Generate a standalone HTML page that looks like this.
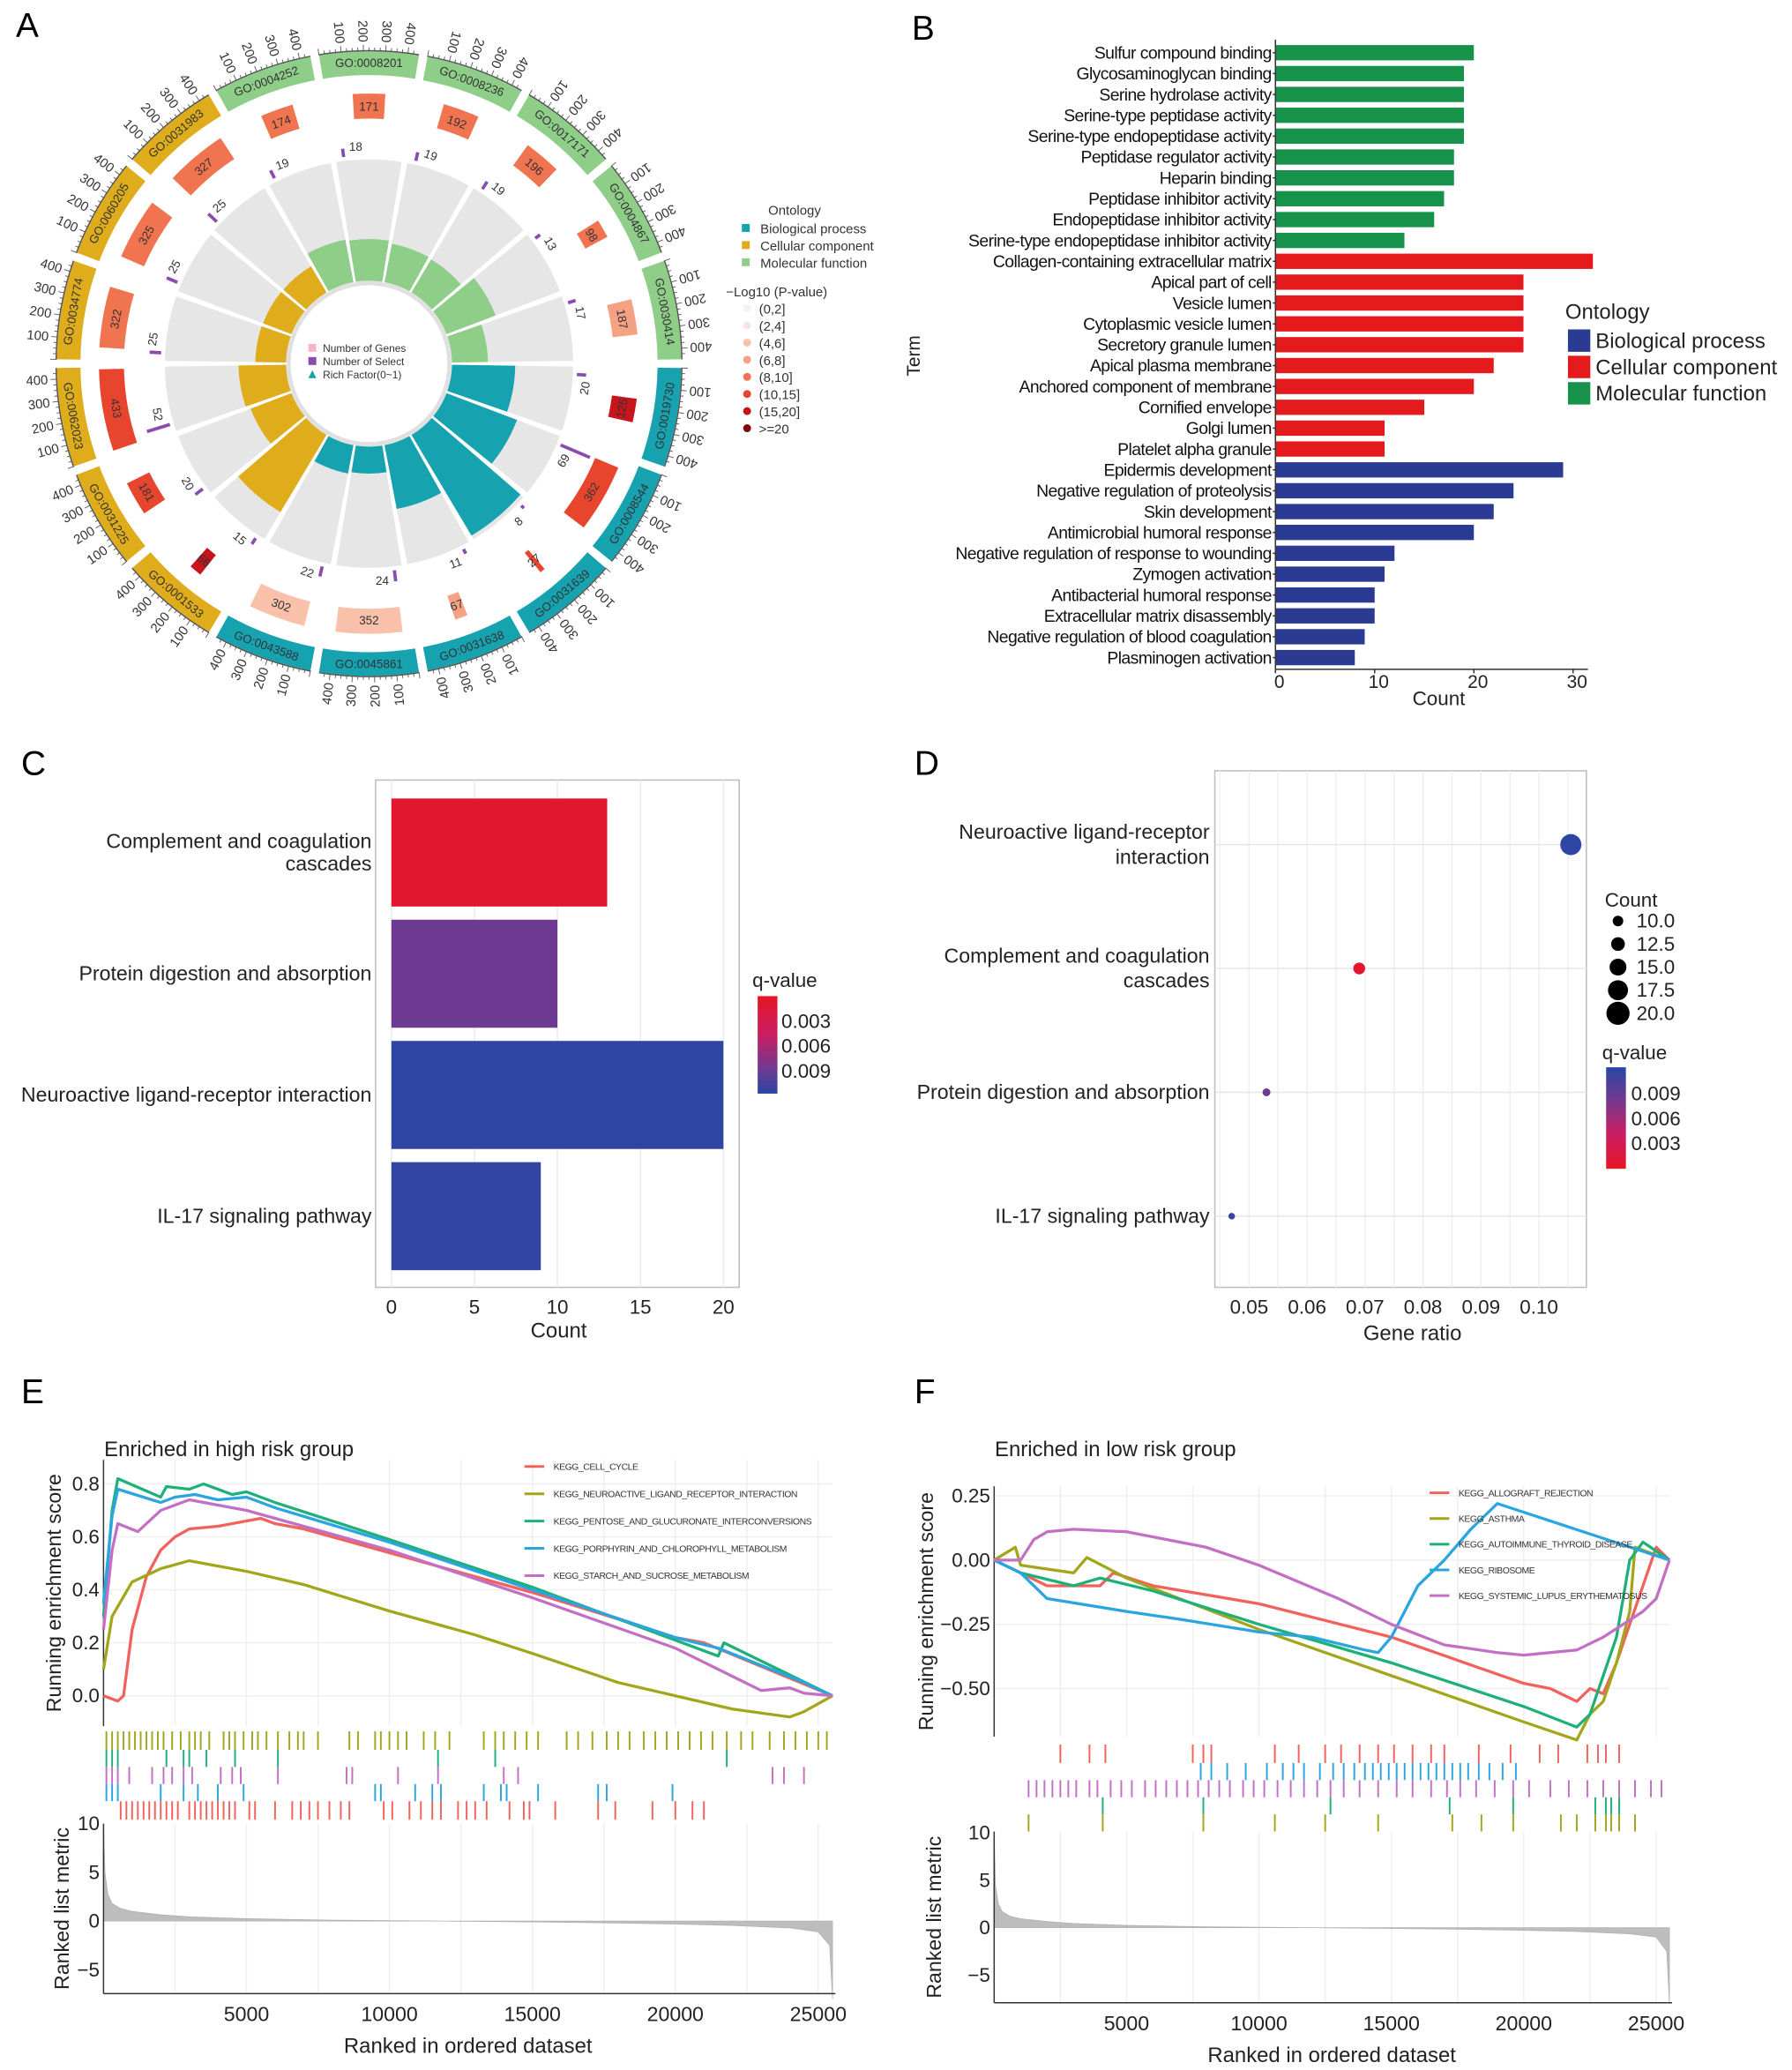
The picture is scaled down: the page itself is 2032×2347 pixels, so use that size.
<!DOCTYPE html>
<html><head><meta charset="utf-8"><style>
html,body{margin:0;padding:0;background:#fff;}
svg{display:block;font-family:"Liberation Sans",Arial,sans-serif;}
</style></head><body>
<svg id="fig" xmlns="http://www.w3.org/2000/svg" width="2032" height="2347" viewBox="0 0 1360 1571">
<rect x="0" y="0" width="1360" height="1571" fill="#fff"/>
<text x="12" y="28" font-size="26">A</text>
<text x="692" y="30" font-size="26">B</text>
<text x="16" y="588" font-size="26">C</text>
<text x="694" y="588" font-size="26">D</text>
<text x="16" y="1065" font-size="26">E</text>
<text x="694" y="1065" font-size="26">F</text>
<g id="gA"></g>
<g id="gB"></g>
<g id="gC"></g>
<g id="gD"></g>
<g id="gE"></g>
<g id="gF"></g>
</svg>
<script>
// ---------- DATA ----------
// Panel A
const aTerms=["GO:0008201","GO:0008236","GO:0017171","GO:0004867","GO:0030414","GO:0019730","GO:0008544","GO:0031639","GO:0031638","GO:0045861","GO:0043588","GO:0001533","GO:0031225","GO:0062023","GO:0034774","GO:0060205","GO:0031983","GO:0004252"];
const aOnt=["MF","MF","MF","MF","MF","BP","BP","BP","BP","BP","BP","CC","CC","CC","CC","CC","CC","MF"];
const aGenes=[171,192,196,98,187,125,362,27,67,352,302,66,181,433,322,325,327,174];
const aSelect=[18,19,19,13,17,20,69,8,11,24,22,15,20,52,25,25,25,19];
const aPlevel=[4,4,4,4,3,6,5,5,3,2,2,6,5,5,4,4,4,4];
// Panel B
const bTerms=["Sulfur compound binding","Glycosaminoglycan binding","Serine hydrolase activity","Serine-type peptidase activity","Serine-type endopeptidase activity","Peptidase regulator activity","Heparin binding","Peptidase inhibitor activity","Endopeptidase inhibitor activity","Serine-type endopeptidase inhibitor activity","Collagen-containing extracellular matrix","Apical part of cell","Vesicle lumen","Cytoplasmic vesicle lumen","Secretory granule lumen","Apical plasma membrane","Anchored component of membrane","Cornified envelope","Golgi lumen","Platelet alpha granule","Epidermis development","Negative regulation of proteolysis","Skin development","Antimicrobial humoral response","Negative regulation of response to wounding","Zymogen activation","Antibacterial humoral response","Extracellular matrix disassembly","Negative regulation of blood coagulation","Plasminogen activation"];
const bCounts=[20,19,19,19,19,18,18,17,16,13,32,25,25,25,25,22,20,15,11,11,29,24,22,20,12,11,10,10,9,8];
const bOnt=["MF","MF","MF","MF","MF","MF","MF","MF","MF","MF","CC","CC","CC","CC","CC","CC","CC","CC","CC","CC","BP","BP","BP","BP","BP","BP","BP","BP","BP","BP"];
const bTicks=[0,10,20,30];
// Panel C
const cTerms=[["Complement and coagulation","cascades"],["Protein digestion and absorption"],["Neuroactive ligand-receptor interaction"],["IL-17 signaling pathway"]];
const cCounts=[13,10,20,9];
const cQ=[0.0005,0.006,0.010,0.0098];
const cTicks=[0,5,10,15,20];
// Panel D
const dTerms=[["Neuroactive ligand-receptor","interaction"],["Complement and coagulation","cascades"],["Protein digestion and absorption"],["IL-17 signaling pathway"]];
const dRatio=[0.1055,0.069,0.053,0.047];
const dCount=[20,13,10,9];
const dQ=[0.0102,0.0005,0.006,0.0098];
const dTicks=[0.05,0.06,0.07,0.08,0.09,0.10];
// Panel E
const eNames=["KEGG_CELL_CYCLE","KEGG_NEUROACTIVE_LIGAND_RECEPTOR_INTERACTION","KEGG_PENTOSE_AND_GLUCURONATE_INTERCONVERSIONS","KEGG_PORPHYRIN_AND_CHLOROPHYLL_METABOLISM","KEGG_STARCH_AND_SUCROSE_METABOLISM"];
const eRankCellCycle=[0,0.5,0.7,1,1.5,2,2.5,3,4,5,5.5,6,7,8,10,15,18,20,21,25.5];
const eEsCellCycle=[0,-0.02,0,0.25,0.45,0.55,0.6,0.63,0.64,0.66,0.67,0.65,0.63,0.6,0.54,0.39,0.29,0.22,0.2,0];
const eRankNeuro=[0,0.3,1,2,3,4,5,7,10,13,15,18,20,22,24,24.5,25.5];
const eEsNeuro=[0.1,0.3,0.43,0.48,0.51,0.49,0.47,0.42,0.32,0.23,0.16,0.05,0,-0.05,-0.08,-0.06,0];
const eRankPentose=[0,0.3,0.5,2,2.2,3,3.5,4.5,5,6,10,15,18,21.5,21.7,25.5];
const eEsPentose=[0.3,0.7,0.82,0.75,0.79,0.78,0.8,0.76,0.77,0.73,0.59,0.41,0.29,0.15,0.2,0];
const eRankPorph=[0,0.3,0.5,2,2.5,3.2,4,5,6,10,15,20,21.5,24.5,25.5];
const eEsPorph=[0.35,0.68,0.78,0.73,0.75,0.76,0.74,0.75,0.71,0.58,0.4,0.22,0.18,0.05,0];
const eRankStarch=[0,0.3,0.5,1.2,2,3,4,5,10,15,20,23,24,24.5,25.5];
const eEsStarch=[0.25,0.55,0.65,0.62,0.7,0.74,0.72,0.7,0.55,0.37,0.18,0.02,0.03,0.01,0];
const eHitsNeuro=[0.1,0.3,0.5,0.7,0.9,1.1,1.3,1.5,1.7,1.9,2.1,2.4,2.7,3,3.2,3.4,3.7,4.2,4.4,4.6,4.9,5.2,5.4,5.7,6.1,6.5,6.8,7,7.5,8.6,8.9,9.5,9.7,10,10.3,10.6,11.2,11.6,12.1,13.3,13.7,14,14.4,14.8,15.2,16.2,16.6,17.1,17.6,18,18.4,18.9,19.3,19.7,20.1,20.5,20.9,21.3,21.8,22.3,22.7,23.3,23.8,24.2,24.6,25,25.3];
const eHitsPentose=[0.1,0.3,0.5,2.2,2.8,3,3.6,4.6,6.1,11.7,13.7,21.8];
const eHitsStarch=[0.1,0.3,0.5,0.9,1.7,2.1,2.4,2.8,3.1,4.1,4.5,4.8,6.1,8.5,8.7,10.3,11.7,14,14.5,23.4,23.8,24.5];
const eHitsPorph=[0.1,0.3,0.5,2,2.8,3.3,4,4.9,9.5,9.7,10.9,11.5,11.8,13.3,13.9,14.1,15.2,17.3,17.6,19.9];
const eHitsCellCycle=[0.6,0.8,1,1.2,1.4,1.6,1.8,2,2.2,2.4,2.6,3,3.2,3.4,3.6,3.8,4,4.2,4.4,4.6,5.1,5.3,6,6.6,6.9,7.2,7.5,7.9,8.3,8.6,9.8,10.1,10.7,11.1,11.5,11.8,12.4,12.7,13,13.4,14.2,14.7,14.9,15.8,17.3,17.9,19.2,20,20.6,21];
const eMetricRank=[0,0.05,0.15,0.3,0.6,1,2,3,5,8,12,15,18,20,22,24,25,25.4,25.5];
const eMetric=[10,5,2.8,1.8,1.3,1.0,0.65,0.45,0.25,0.1,0,-0.08,-0.2,-0.3,-0.45,-0.7,-1.1,-2.5,-8];
const eEsTicks=[0,0.2,0.4,0.6,0.8];
// Panel F
const fNames=["KEGG_ALLOGRAFT_REJECTION","KEGG_ASTHMA","KEGG_AUTOIMMUNE_THYROID_DISEASE","KEGG_RIBOSOME","KEGG_SYSTEMIC_LUPUS_ERYTHEMATOSUS"];
const fRankAllo=[0,1,2,4,4.5,6,10,15,20,21,22,22.5,23,23.5,24.5,25,25.5];
const fEsAllo=[0,-0.05,-0.1,-0.1,-0.05,-0.1,-0.17,-0.3,-0.48,-0.5,-0.55,-0.5,-0.52,-0.4,-0.1,0.05,0];
const fRankAsthma=[0,0.8,1,3,3.5,5,10,15,20,22,22.5,23,23.5,24,24.2,25.5];
const fEsAsthma=[0,0.05,-0.02,-0.05,0.01,-0.07,-0.27,-0.45,-0.63,-0.7,-0.6,-0.55,-0.4,-0.2,0.05,0];
const fRankThy=[0,1,3,4,6,10,15,20,22,22.5,23,23.5,24,24.5,25.5];
const fEsThy=[0,-0.05,-0.1,-0.07,-0.12,-0.25,-0.4,-0.57,-0.65,-0.6,-0.45,-0.3,0,0.07,0];
const fRankRibo=[0,1,2,5,7,10,12,14,14.5,15,15.5,16,17,18,19,25.5];
const fEsRibo=[0,-0.05,-0.15,-0.2,-0.23,-0.28,-0.3,-0.35,-0.36,-0.3,-0.2,-0.1,0,0.12,0.22,0];
const fRankSle=[0,1,1.5,2,3,5,8,10,13,15,17,19,20,22,23,24.5,25,25.5];
const fEsSle=[0,0,0.08,0.11,0.12,0.11,0.05,-0.02,-0.15,-0.25,-0.33,-0.36,-0.37,-0.35,-0.3,-0.2,-0.15,0];
const fHitsAllo=[2.5,3.6,4.2,7.5,7.9,8.2,10.6,11.5,12.5,13.1,13.8,14.5,15.1,15.8,16.5,17,18.3,19.5,20.6,21.3,22.4,22.8,23.1,23.6];
const fHitsRibo=[7.8,8.2,8.8,9.5,10.3,10.9,11.3,11.7,12.3,12.8,13.2,13.6,14,14.3,14.6,14.9,15.2,15.5,15.8,16.1,16.4,16.7,17,17.3,17.6,17.9,18.3,18.7,19.2,19.7];
const fHitsSle=[1.3,1.6,1.9,2.2,2.5,2.8,3.1,3.6,3.9,4.4,4.8,5.2,5.7,6.1,6.5,6.9,7.3,7.7,8.1,8.5,8.9,9.4,9.8,10.2,10.7,11.2,11.7,12.2,12.7,13.2,13.8,14.5,15.2,15.8,16.5,17.1,17.6,18.2,18.9,19.6,20.2,21,21.7,22.4,23,23.6,24.2,24.8,25.2];
const fHitsThy=[4.1,7.9,12.7,17.2,19.6,22.7,23.1,23.3,23.6];
const fHitsAsthma=[1.3,4.1,7.9,10.6,12.5,14.5,17.3,18.4,19.6,21.4,22,22.7,23.1,23.3,23.6,24.2];
const fMetricRank=[0,0.05,0.15,0.3,0.6,1,2,3,5,8,12,15,18,20,22,24,25,25.4,25.5];
const fMetric=[10,4.5,2.6,1.7,1.2,0.95,0.65,0.45,0.25,0.1,0,-0.08,-0.18,-0.28,-0.4,-0.65,-1.0,-2.5,-8];
const fEsTicks=[-0.5,-0.25,0,0.25];

// ---------- HELPERS ----------
const NS="http://www.w3.org/2000/svg";
function mk(tag,attrs,parent){const e=document.createElementNS(NS,tag);for(const k in attrs)e.setAttribute(k,attrs[k]);parent.appendChild(e);return e;}
function txt(s,attrs,parent){const e=mk("text",attrs,parent);e.textContent=s;return e;}
const ONTC={BP:"#17a2b0",CC:"#dfad1c",MF:"#8fce89"};
const BCOL={BP:"#2b3a92",CC:"#e41a1c",MF:"#17924a"};
const PCOL=["#f3f3f3","#fbe4dc","#f9c0aa","#f4a283","#f0744f","#e8452e","#c8151b","#7f0a0f"];

// ---------- PANEL A ----------
(function(){
const g=document.getElementById("gA");
const cx=280,cy=276;
function P(r,d){const t=d*Math.PI/180;return [cx+r*Math.sin(t),cy-r*Math.cos(t)];}
function arc(r0,r1,a0,a1){const p1=P(r1,a0),p2=P(r1,a1),p3=P(r0,a1),p4=P(r0,a0);const lg=(a1-a0)>180?1:0;
return `M${p1[0]},${p1[1]} A${r1},${r1} 0 ${lg} 1 ${p2[0]},${p2[1]} L${p3[0]},${p3[1]} A${r0},${r0} 0 ${lg} 0 ${p4[0]},${p4[1]} Z`;}
function rot(th){return (th>90&&th<270)?th+180:th;}
let el;
for(let i=0;i<aTerms.length;i++){
 const th=20*i,a0=th-10+0.8,a1=th+10-0.8;
 const oc=ONTC[aOnt[i]];
 el=mk("path",{d:arc(62,155,a0,a1),fill:"#e6e6e6"},g);
 
 
 const rf=aSelect[i]/aGenes[i];
 el=mk("path",{d:arc(63,63+rf*300,a0,a1),fill:oc},g);
 
 
 el=mk("path",{d:arc(219,237,a0,a1),fill:oc},g);
 
 
 let p=P(228,th);
 el=txt(aTerms[i],{x:p[0],y:p[1]+3,"font-size":9,"text-anchor":"middle",fill:"#333",transform:`rotate(${rot(th)} ${p[0]} ${p[1]})`},g);
 
 
 el=mk("path",{d:arc(237,238,a0,a1),fill:"#555"},g);
 
 
 for(let v=0;v<=430;v+=25){const ang=a0+v/450*(a1-a0);const q1=P(237,ang),q2=P(v%100==0?242:240,ang);
  el=mk("line",{x1:q1[0],y1:q1[1],x2:q2[0],y2:q2[1],stroke:"#555","stroke-width":0.6},g);
  
  }
 for(let v=100;v<=400;v+=100){const ang=a0+v/450*(a1-a0);const q=P(244,ang);
  el=txt(String(v),{x:q[0],y:q[1]+3.5,"font-size":10,"text-anchor":"end",fill:"#333",transform:`rotate(${ang+90} ${q[0]} ${q[1]})`},g);
  
  }
 const hw=aGenes[i]/433*8.8;
 el=mk("path",{d:arc(186,205,th-hw,th+hw),fill:PCOL[aPlevel[i]]},g);
 
 
 p=P(195,th);
 el=txt(String(aGenes[i]),{x:p[0],y:p[1]+3,"font-size":9,"text-anchor":"middle",fill:"#333",transform:`rotate(${rot(th)} ${p[0]} ${p[1]})`},g);
 
 
 const sa=th-7;const s1=P(158,sa),s2=P(158+aSelect[i]*0.35,sa);
 el=mk("line",{x1:s1[0],y1:s1[1],x2:s2[0],y2:s2[1],stroke:"#8a4bb0","stroke-width":2.5},g);
 
 
 p=P(165,th-3.5);
 el=txt(String(aSelect[i]),{x:p[0],y:p[1]+3,"font-size":9,"text-anchor":"middle",fill:"#333",transform:`rotate(${rot(th)} ${p[0]} ${p[1]})`},g);
 
 
}
el=mk("circle",{cx:cx,cy:cy,r:61,fill:"#fff",stroke:"#e0e0e0","stroke-width":3},g);


const inner=[["Number of Genes","#f4b6c2","rect"],["Number of Select","#8a4bb0","rect"],["Rich Factor(0~1)","#17a2b0","tri"]];
inner.forEach((d,k)=>{const y=267+k*10;
 if(d[2]=="rect"){el=mk("rect",{x:234,y:y-6,width:6,height:6,fill:d[1]},g);}else{el=mk("path",{d:`M234,${y} L237,${y-6} L240,${y}Z`,fill:d[1]},g);}
 
 
 el=txt(d[0],{x:245,y:y,"font-size":8,fill:"#333"},g);
 
 });
el=txt("Ontology",{x:583,y:163,"font-size":10,fill:"#333"},g);


[["Biological process","BP"],["Cellular component","CC"],["Molecular function","MF"]].forEach((d,k)=>{const y=176+k*13;
 el=mk("rect",{x:563,y:y-6,width:6,height:6,fill:ONTC[d[1]]},g);
 
 
 el=txt(d[0],{x:577,y:y+1,"font-size":10,fill:"#333"},g);
 
 });
el=txt("\u2212Log10 (P-value)",{x:551,y:225,"font-size":10,fill:"#333"},g);


["(0,2]","(2,4]","(4,6]","(6,8]","(8,10]","(10,15]","(15,20]",">=20"].forEach((s,k)=>{const y=237+k*13;
 el=mk("circle",{cx:567,cy:y-3,r:3,fill:PCOL[k]},g);
 
 
 el=txt(s,{x:576,y:y+1,"font-size":10,fill:"#333"},g);
 
 });
})();

// ---------- PANEL B ----------
(function(){
const g=document.getElementById("gB");
const x0=968,sx=7.53,y0=40,dy=15.83;let el;
for(let i=0;i<bTerms.length;i++){const y=y0+i*dy;
 el=mk("rect",{x:x0,y:y-5.8,width:bCounts[i]*sx,height:11.6,fill:BCOL[bOnt[i]]},g);
 
 
 el=txt(bTerms[i],{x:x0-3,y:y+4.5,"font-size":13,"text-anchor":"end",fill:"#111","letter-spacing":"-0.4"},g);
 
 
 el=mk("line",{x1:x0-2,y1:y,x2:x0,y2:y,stroke:"#333"},g);
 
 }
el=mk("line",{x1:x0,y1:30,x2:x0,y2:508,stroke:"#333","stroke-width":1},g);


el=mk("line",{x1:x0,y1:508,x2:x0+31.5*sx,y2:508,stroke:"#333","stroke-width":1},g);


bTicks.forEach(v=>{const x=x0+v*sx;
 el=mk("line",{x1:x,y1:508,x2:x,y2:511,stroke:"#333"},g);
 
 
 el=txt(String(v),{x:x+3,y:522,"font-size":14,"text-anchor":"middle",fill:"#222"},g);
 
 });
el=txt("Count",{x:1092,y:535,"font-size":15,"text-anchor":"middle",fill:"#222"},g);


el=txt("Term",{x:698,y:270,"font-size":14,"text-anchor":"middle",fill:"#222",transform:"rotate(-90 698 270)"},g);


el=txt("Ontology",{x:1188,y:242,"font-size":16,fill:"#222"},g);


[["Biological process","BP"],["Cellular component","CC"],["Molecular function","MF"]].forEach((d,k)=>{const y=250+k*20;
 el=mk("rect",{x:1190,y:y,width:17,height:17,fill:BCOL[d[1]]},g);
 
 
 el=txt(d[0],{x:1211,y:y+14,"font-size":16,fill:"#222"},g);
 
 });
})();

function qcol(q){
 const stops=[[0,[232,20,36]],[0.003,[200,30,100]],[0.006,[110,58,145]],[0.0105,[40,70,165]]];
 q=Math.max(0,Math.min(0.0105,q));
 for(let i=0;i<stops.length-1;i++){if(q<=stops[i+1][0]){const t=(q-stops[i][0])/(stops[i+1][0]-stops[i][0]);const a=stops[i][1],b=stops[i+1][1];return `rgb(${a.map((v,k)=>Math.round(v+(b[k]-v)*t)).join(",")})`;}}
 return "rgb(40,70,165)";}

// ---------- PANEL C ----------
(function(){
const g=document.getElementById("gC");let el;
const x0=297,sx=12.6,top=592,bot=977;
el=mk("rect",{x:285,y:top,width:276,height:bot-top,fill:"#fff",stroke:"#bbb","stroke-width":1},g);


cTicks.forEach(v=>{const x=x0+v*sx;
 el=mk("line",{x1:x,y1:top,x2:x,y2:bot,stroke:"#ebebeb"},g);
 
 });
for(let i=0;i<cCounts.length;i++){const yc=647+i*92;
 el=mk("rect",{x:x0,y:yc-41,width:cCounts[i]*sx,height:82,fill:qcol(cQ[i])},g);
 
 
 const L=cTerms[i];L.forEach((s,k)=>{
  el=txt(s,{x:282,y:yc+5+(k-(L.length-1)/2)*17,"font-size":15.5,"text-anchor":"end",fill:"#222"},g);
  
  });}
cTicks.forEach(v=>{const x=x0+v*sx;
 el=txt(String(v),{x:x,y:997,"font-size":15,"text-anchor":"middle",fill:"#222"},g);
 
 });
el=txt("Count",{x:424,y:1015,"font-size":16,"text-anchor":"middle",fill:"#222"},g);


el=txt("q-value",{x:571,y:749,"font-size":15,fill:"#222"},g);


const defs=mk("defs",{},g);const lg=mk("linearGradient",{id:"gradC",x1:0,y1:0,x2:0,y2:1},defs);
mk("stop",{offset:"0%","stop-color":qcol(0)},lg);mk("stop",{offset:"40%","stop-color":qcol(0.003)},lg);mk("stop",{offset:"75%","stop-color":qcol(0.006)},lg);mk("stop",{offset:"100%","stop-color":qcol(0.0105)},lg);
el=mk("rect",{x:575,y:756,width:15,height:74,fill:"url(#gradC)"},g);


[["0.003",780],["0.006",799],["0.009",818]].forEach(d=>{
 el=txt(d[0],{x:593,y:d[1],"font-size":15,fill:"#222"},g);
 
 });
})();

// ---------- PANEL D ----------
(function(){
const g=document.getElementById("gD");let el;
const top=585,bot=977,left=922,right=1204;
function X(v){return 948+(v-0.05)*4400;}
el=mk("rect",{x:left,y:top,width:right-left,height:bot-top,fill:"#fff",stroke:"#bbb"},g);


for(let v=0.045;v<=0.106;v+=0.005){el=mk("line",{x1:X(v),y1:top,x2:X(v),y2:bot,stroke:"#efefef"},g);
 
 }
for(let i=0;i<dTerms.length;i++){const y=641+i*94;
 el=mk("line",{x1:left,y1:y,x2:right,y2:y,stroke:"#e6e6e6"},g);
 
 }
for(let i=0;i<dTerms.length;i++){const y=641+i*94;
 const r=2.5+(dCount[i]-9)*0.5;
 el=mk("circle",{cx:X(dRatio[i]),cy:y,r:r,fill:qcol(dQ[i])},g);
 
 
 const L=dTerms[i];L.forEach((s,k)=>{
  el=txt(s,{x:918,y:y+5+(k-(L.length-1)/2)*19,"font-size":15.5,"text-anchor":"end",fill:"#222"},g);
  
  });}
dTicks.forEach(v=>{el=txt(v.toFixed(2),{x:X(v),y:997,"font-size":15,"text-anchor":"middle",fill:"#222"},g);
 
 });
el=txt("Gene ratio",{x:1072,y:1017,"font-size":16,"text-anchor":"middle",fill:"#222"},g);


el=txt("Count",{x:1218,y:688,"font-size":15,fill:"#222"},g);


[10,12.5,15,17.5,20].forEach((v,k)=>{const y=699+k*17.5;
 el=mk("circle",{cx:1228,cy:y,r:4+k*1.2,fill:"#000"},g);
 
 
 el=txt(v.toFixed(1),{x:1242,y:y+5,"font-size":15,fill:"#222"},g);
 
 });
el=txt("q-value",{x:1216,y:804,"font-size":15,fill:"#222"},g);


const defs=mk("defs",{},g);const lg=mk("linearGradient",{id:"gradD",x1:0,y1:0,x2:0,y2:1},defs);
mk("stop",{offset:"0%","stop-color":qcol(0.0105)},lg);mk("stop",{offset:"30%","stop-color":qcol(0.006)},lg);mk("stop",{offset:"65%","stop-color":qcol(0.003)},lg);mk("stop",{offset:"100%","stop-color":qcol(0)},lg);
el=mk("rect",{x:1219,y:810,width:15,height:77,fill:"url(#gradD)"},g);


[["0.009",835],["0.006",854],["0.003",873]].forEach(d=>{
 el=txt(d[0],{x:1238,y:d[1],"font-size":15,fill:"#222"},g);
 
 });
})();

// ---------- GSEA ----------
const GC={red:"#f1625d",olive:"#a3a51a",green:"#1fb07a",blue:"#2aa5e0",purple:"#c36fc4"};
function gsea(g,o){
 let el;
 const X=v=>o.x0+v*o.sx;
 const Y=v=>o.esZero-v*o.esSy;
 const M=v=>o.mZero-v*o.mSy;
 for(let v=2.5;v<=25.5;v+=2.5){
  el=mk("line",{x1:X(v),y1:o.esTop,x2:X(v),y2:o.esBot,stroke:"#efefef"},g);
  
  
  el=mk("line",{x1:X(v),y1:o.mTop,x2:X(v),y2:o.mBot,stroke:"#efefef"},g);
  
  }
 o.esTicks.forEach(v=>{el=mk("line",{x1:o.x0,y1:Y(v),x2:X(25.5),y2:Y(v),stroke:"#efefef"},g);
  
  
  el=txt(o.esFmt(v),{x:o.x0-3,y:Y(v)+5,"font-size":15,"text-anchor":"end",fill:"#222"},g);
  
  });
 el=mk("line",{x1:o.x0,y1:o.esTop,x2:o.x0,y2:o.esBot,stroke:"#333"},g);
 
 
 o.series.forEach(s=>{
  el=mk("polyline",{points:s.rank.map((r,k)=>X(r)+","+Y(s.es[k])).join(" "),fill:"none",stroke:s.col,"stroke-width":2.2,"stroke-linejoin":"round"},g);
  
  });
 o.series.forEach((s,k)=>{const y=o.legY+k*o.legDy;
  el=mk("line",{x1:o.legX,y1:y,x2:o.legX+15,y2:y,stroke:s.col,"stroke-width":2},g);
  
  
  el=txt(s.name,{x:o.legX+22,y:y+2.5,"font-size":7,fill:"#333","letter-spacing":"-0.3"},g);
  
  });
 o.rugs.forEach(rg=>{rg.hits.forEach(h=>{
  el=mk("line",{x1:X(h),y1:rg.y0,x2:X(h),y2:rg.y1,stroke:rg.col,"stroke-width":1.3},g);
  
  });});
 const pts=[X(0)+","+M(0)].concat(o.mRank.map((r,k)=>X(r)+","+M(o.mVal[k]))).concat([X(25.5)+","+M(0)]);
 el=mk("polygon",{points:pts.join(" "),fill:"#bdbdbd",stroke:"#b0b0b0","stroke-width":0.5},g);
 
 
 [10,5,0,-5].forEach(v=>{el=txt(v==-5?"\u22125":String(v),{x:o.x0-3,y:M(v)+5,"font-size":15,"text-anchor":"end",fill:"#222"},g);
  
  });
 el=mk("line",{x1:o.x0,y1:o.mTop,x2:o.x0,y2:o.mBot,stroke:"#333"},g);
 
 
 el=mk("line",{x1:o.x0,y1:o.mBot,x2:X(25.6),y2:o.mBot,stroke:"#333"},g);
 
 
 [5,10,15,20,25].forEach(v=>{
  el=txt(String(v*1000),{x:X(v),y:o.mBot+21,"font-size":15.5,"text-anchor":"middle",fill:"#222"},g);
  
  });
 el=txt("Ranked in ordered dataset",{x:(o.x0+X(25.5))/2,y:o.mBot+45,"font-size":16,"text-anchor":"middle",fill:"#222"},g);
 
 
 el=txt("Running enrichment score",{x:0,y:0,"font-size":15.5,"text-anchor":"middle",fill:"#222",transform:`translate(${o.yTitleX} ${(o.esTop+o.esBot)/2}) rotate(-90)`},g);
 
 
 el=txt("Ranked list metric",{x:0,y:0,"font-size":15.5,"text-anchor":"middle",fill:"#222",transform:`translate(${o.yTitleX+6} ${(o.mTop+o.mBot)/2}) rotate(-90)`},g);
 
 
 el=txt(o.title,{x:o.titleX,y:o.titleY,"font-size":16,fill:"#222"},g);
 
 
}
gsea(document.getElementById("gE"),{
 x0:78.5,sx:21.7,esZero:1287,esSy:201,esTop:1108,esBot:1310,mZero:1458,mSy:7.4,mTop:1384,mBot:1513,
 esTicks:eEsTicks,esFmt:v=>v.toFixed(1),yTitleX:46,title:"Enriched in high risk group",titleX:79,titleY:1105,
 legX:398,legY:1113,legDy:20.7,mRank:eMetricRank,mVal:eMetric,
 series:[{name:eNames[0],rank:eRankCellCycle,es:eEsCellCycle,col:GC.red},{name:eNames[1],rank:eRankNeuro,es:eEsNeuro,col:GC.olive},{name:eNames[2],rank:eRankPentose,es:eEsPentose,col:GC.green},{name:eNames[3],rank:eRankPorph,es:eEsPorph,col:GC.blue},{name:eNames[4],rank:eRankStarch,es:eEsStarch,col:GC.purple}],
 rugs:[{hits:eHitsNeuro,col:GC.olive,y0:1314,y1:1328},{hits:eHitsPentose,col:GC.green,y0:1328,y1:1341},{hits:eHitsStarch,col:GC.purple,y0:1341,y1:1354},{hits:eHitsPorph,col:GC.blue,y0:1354,y1:1367},{hits:eHitsCellCycle,col:GC.red,y0:1367,y1:1381}]
});
gsea(document.getElementById("gF"),{
 x0:754.5,sx:20.1,esZero:1184,esSy:195,esTop:1128,esBot:1318,mZero:1463,mSy:7.2,mTop:1390,mBot:1520,
 esTicks:fEsTicks,esFmt:v=>(v<0?"\u2212":"")+Math.abs(v).toFixed(2),yTitleX:708,title:"Enriched in low risk group",titleX:755,titleY:1105,
 legX:1085,legY:1133,legDy:19.5,mRank:fMetricRank,mVal:fMetric,
 series:[{name:fNames[0],rank:fRankAllo,es:fEsAllo,col:GC.red},{name:fNames[1],rank:fRankAsthma,es:fEsAsthma,col:GC.olive},{name:fNames[2],rank:fRankThy,es:fEsThy,col:GC.green},{name:fNames[3],rank:fRankRibo,es:fEsRibo,col:GC.blue},{name:fNames[4],rank:fRankSle,es:fEsSle,col:GC.purple}],
 rugs:[{hits:fHitsAllo,col:GC.red,y0:1324,y1:1338},{hits:fHitsRibo,col:GC.blue,y0:1338,y1:1351},{hits:fHitsSle,col:GC.purple,y0:1351,y1:1364},{hits:fHitsThy,col:GC.green,y0:1364,y1:1377},{hits:fHitsAsthma,col:GC.olive,y0:1377,y1:1390}]
});
</script>
</body></html>
